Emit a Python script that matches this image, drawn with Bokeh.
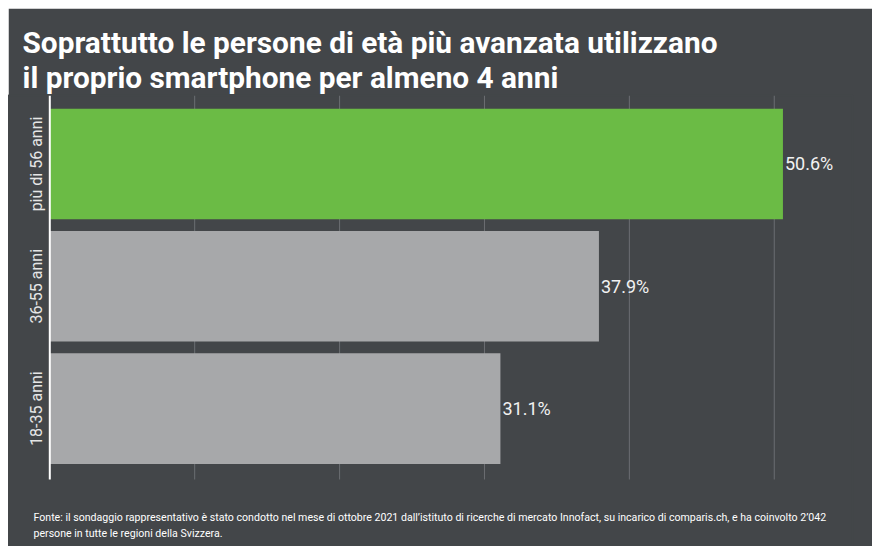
from bokeh.plotting import figure
from bokeh.models import ColumnDataSource, Title, Range1d
from bokeh.core.properties import value
from bokeh.embed import file_html
from bokeh.resources import INLINE
import math

categories = ["18-35 anni", "36-55 anni", "più di 56 anni"]
values = [31.1, 37.9, 50.6]
colors = ["#a7a8aa", "#a7a8aa", "#6bbb45"]
labels = ["31.1%", "37.9%", "50.6%"]
x_ticks = [10, 20, 30, 40, 50]

title_text = "Soprattutto le persone di età più avanzata utilizzano\nil proprio smartphone per almeno 4 anni"
footer_lines = ["Fonte: il sondaggio rappresentativo è stato condotto nel mese di ottobre 2021 dall’istituto di ricerche di mercato Innofact, su incarico di comparis.ch, e ha coinvolto 2’042",
                "persone in tutte le regioni della Svizzera."]

BG = "#434649"
pos = list(range(len(categories)))

# layout constants (data units)
Y_TOP, Y_BOT = 2.56, -0.58          # extent of plotting area (grid / axis)
Y_START = -1.128                    # frame extends down to hold the footer
X_START, X_END = -2.85, 55.4
CAT_X = -0.95                       # x of rotated category labels
FOOT_X = -1.125
FOOT_Y = [-0.891, -1.0215]

src = ColumnDataSource(dict(y=pos, v=values, c=colors, lab=labels, cat=categories))

p = figure(width=864, height=538, output_backend="svg", toolbar_location=None,
           x_range=Range1d(X_START, X_END), y_range=Range1d(Y_START, Y_TOP),
           x_axis_location=None, y_axis_location=None,
           min_border_left=0, min_border_right=20, min_border_top=87, min_border_bottom=0)
p.margin = (8, 0, 0, 8)
p.background_fill_color = BG
p.border_fill_color = BG
p.outline_line_color = BG
p.outline_line_width = 2
p.grid.visible = False

# grid lines
p.segment(x0=x_ticks, x1=x_ticks, y0=[Y_BOT] * len(x_ticks), y1=[Y_TOP] * len(x_ticks),
          line_color="#6b6e72", line_width=1)

p.hbar(y="y", right="v", left=0, height=0.905, color="c", source=src, line_color=None)

# axis line
p.segment(x0=[0], x1=[0], y0=[Y_BOT], y1=[Y_TOP], line_color="#ffffff", line_width=2)

p.text(x="v", y="y", text="lab", source=src, x_offset=2, text_baseline="middle",
       text_align="left", text_color="#f2f2f2", text_font_size="18px",
       text_font=value("Roboto"))

# category labels (rotated)
p.text(x=CAT_X, y="y", text="cat", source=src, angle=math.pi / 2,
       text_align="center", text_baseline="middle", text_color="#e6e6e6",
       text_font_size="16px", text_font=value("Roboto"))

# footer
p.text(x=[FOOT_X] * len(footer_lines), y=FOOT_Y, text=footer_lines,
       text_align="left", text_baseline="alphabetic", text_color="#ffffff",
       text_font_size="10.6px", text_font=value("Roboto"))

p.title = Title(text=title_text, text_font="Roboto", text_font_size="29.8px",
                text_font_style="bold", text_color="#ffffff", align="left",
                offset=14, standoff=1, text_line_height=1.0)

open("out.html", "w").write(file_html(p, INLINE))
